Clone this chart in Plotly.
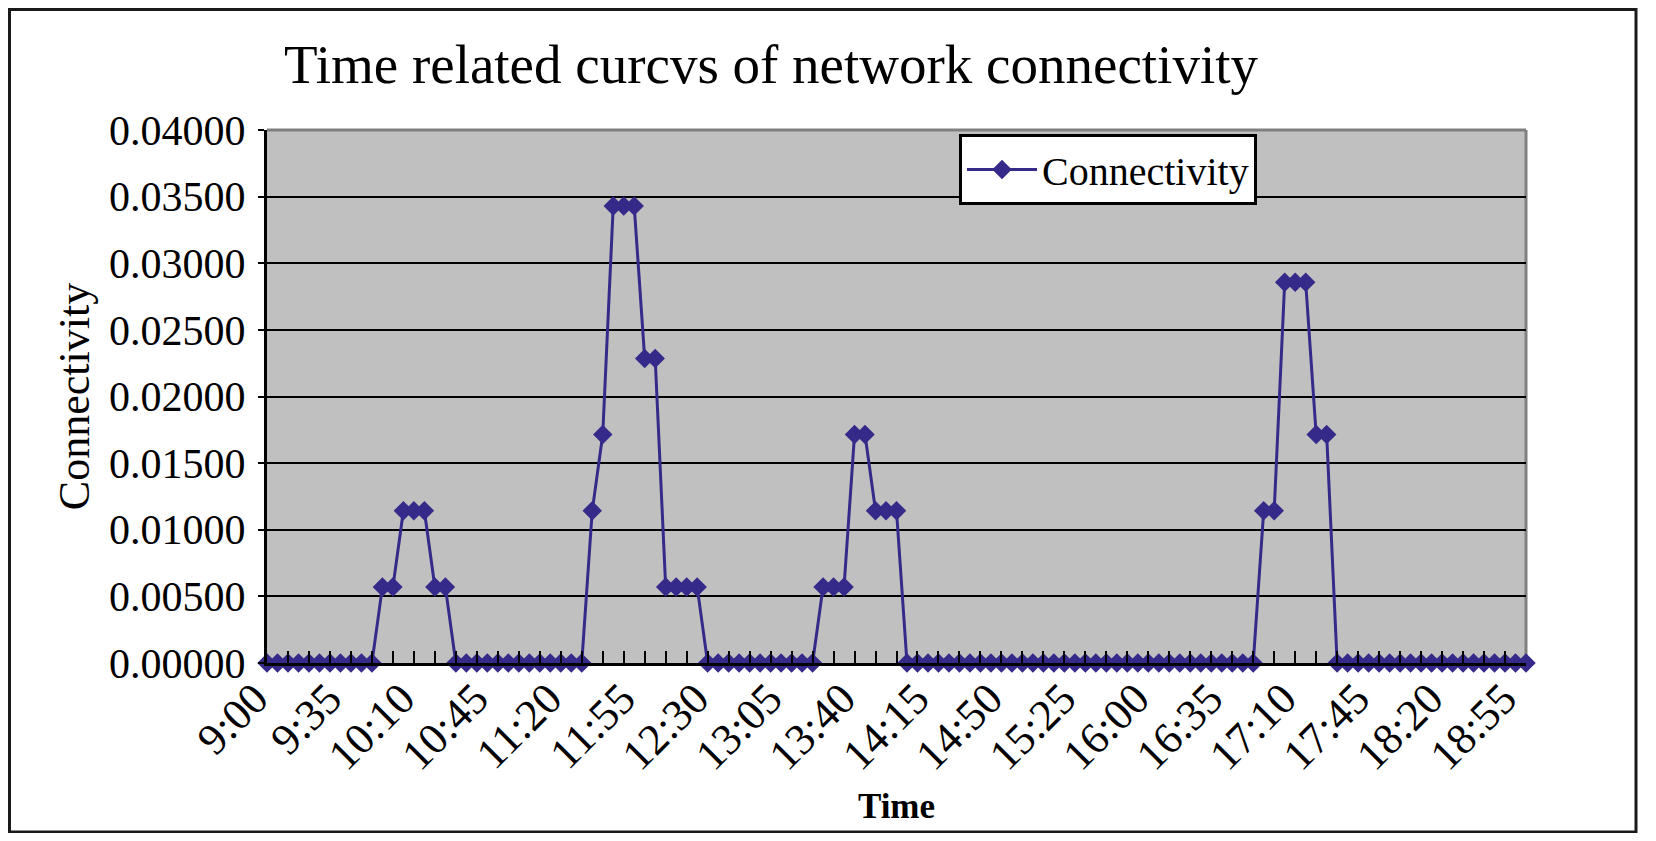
import plotly.graph_objects as go

times = [
    "9:00", "9:05", "9:10", "9:15", "9:20", "9:25", "9:30", "9:35", "9:40", "9:45", "9:50", "9:55",
    "10:00", "10:05", "10:10", "10:15", "10:20", "10:25", "10:30", "10:35", "10:40", "10:45", "10:50", "10:55",
    "11:00", "11:05", "11:10", "11:15", "11:20", "11:25", "11:30", "11:35", "11:40", "11:45", "11:50", "11:55",
    "12:00", "12:05", "12:10", "12:15", "12:20", "12:25", "12:30", "12:35", "12:40", "12:45", "12:50", "12:55",
    "13:00", "13:05", "13:10", "13:15", "13:20", "13:25", "13:30", "13:35", "13:40", "13:45", "13:50", "13:55",
    "14:00", "14:05", "14:10", "14:15", "14:20", "14:25", "14:30", "14:35", "14:40", "14:45", "14:50", "14:55",
    "15:00", "15:05", "15:10", "15:15", "15:20", "15:25", "15:30", "15:35", "15:40", "15:45", "15:50", "15:55",
    "16:00", "16:05", "16:10", "16:15", "16:20", "16:25", "16:30", "16:35", "16:40", "16:45", "16:50", "16:55",
    "17:00", "17:05", "17:10", "17:15", "17:20", "17:25", "17:30", "17:35", "17:40", "17:45", "17:50", "17:55",
    "18:00", "18:05", "18:10", "18:15", "18:20", "18:25", "18:30", "18:35", "18:40", "18:45", "18:50", "18:55",
    "19:00",
]

connectivity = [
    0, 0, 0, 0, 0, 0, 0, 0, 0, 0, 0,
    0.00571, 0.00571, 0.01143, 0.01143, 0.01143, 0.00571, 0.00571,
    0, 0, 0, 0, 0, 0, 0, 0, 0, 0, 0, 0, 0,
    0.01143, 0.01714, 0.03429, 0.03429, 0.03429, 0.02286, 0.02286,
    0.00571, 0.00571, 0.00571, 0.00571,
    0, 0, 0, 0, 0, 0, 0, 0, 0, 0, 0,
    0.00571, 0.00571, 0.00571, 0.01714, 0.01714, 0.01143, 0.01143, 0.01143,
    0, 0, 0, 0, 0, 0, 0, 0, 0, 0, 0, 0, 0, 0, 0, 0, 0,
    0, 0, 0, 0, 0, 0, 0, 0, 0, 0, 0, 0, 0, 0, 0, 0, 0,
    0.01143, 0.01143, 0.02857, 0.02857, 0.02857, 0.01714, 0.01714,
    0, 0, 0, 0, 0, 0, 0, 0, 0, 0, 0, 0, 0, 0, 0, 0, 0, 0, 0,
]

tick_labels = ["9:00", "9:35", "10:10", "10:45", "11:20", "11:55", "12:30", "13:05", "13:40",
               "14:15", "14:50", "15:25", "16:00", "16:35", "17:10", "17:45", "18:20", "18:55"]

x_idx = list(range(len(times)))
tick_pos = [times.index(t) for t in tick_labels]

# The page body adds an 8px margin, so the figure is sized/offset to compensate.
OFF = 8
W, H = 1656 - 2 * OFF, 841 - 2 * OFF
L, R, T, B = 267 - OFF, 1526 - OFF, 130 - OFF, 663 - OFF


def px_x(p):
    return (p - OFF - L) / (R - L)


def px_y(p):
    return (B - (p - OFF)) / (B - T)


SERIF = "Liberation Serif"
COLOR = "#352A8A"

fig = go.Figure()
fig.add_trace(go.Scatter(
    x=x_idx, y=connectivity, customdata=times, name="Connectivity",
    mode="lines+markers",
    line=dict(color=COLOR, width=3),
    marker=dict(symbol="diamond", size=15, color=COLOR),
    cliponaxis=False,
    hovertemplate="%{customdata}: %{y:.5f}<extra></extra>",
))
# empty helper trace so the labelled overlay axis is drawn
fig.add_trace(go.Scatter(x=[], y=[], xaxis="x2", yaxis="y",
                         showlegend=False, hoverinfo="skip"))

fig.update_layout(
    width=W, height=H, autosize=False,
    margin=dict(l=L, r=W - R, t=T, b=H - B, pad=0, autoexpand=False),
    paper_bgcolor="white", plot_bgcolor="#C0C0C0",
    title=dict(text="Time related curcvs of network connectivity",
               x=px_x(771), xref="paper", xanchor="center",
               y=1 - (64 - OFF) / H, yref="container", yanchor="middle",
               font=dict(family=SERIF, size=55, color="black")),
    showlegend=True,
    legend=dict(x=px_x(959), y=px_y(134), xanchor="left", yanchor="top",
                bgcolor="white", bordercolor="black", borderwidth=3,
                itemwidth=70,
                font=dict(family=SERIF, size=40, color="black")),
    xaxis=dict(range=[0, len(times) - 1], tickmode="linear", tick0=0, dtick=2,
               ticks="inside", ticklen=12, tickwidth=2, tickcolor="black",
               showticklabels=False, showgrid=False, zeroline=False,
               showline=True, linecolor="black", linewidth=3, automargin=False),
    xaxis2=dict(overlaying="x", anchor="y", side="bottom",
                range=[0, len(times) - 1], tickmode="array",
                tickvals=tick_pos, ticktext=tick_labels, tickangle=-45,
                ticks="", showgrid=False, zeroline=False, showline=False,
                ticklabelshift=-12, automargin=False,
                tickfont=dict(family=SERIF, size=44, color="black"),
                title=dict(text="<b>Time</b>", standoff=14,
                           font=dict(family=SERIF, size=35, color="black"))),
    yaxis=dict(range=[0, 0.04], tickmode="linear", tick0=0, dtick=0.005,
               tickformat=".5f", ticks="outside", ticklen=6, tickwidth=2,
               tickcolor="black", showgrid=True, gridcolor="black", gridwidth=2,
               zeroline=False, showline=True, linecolor="black", linewidth=3,
               ticklabelstandoff=4, automargin=False,
               tickfont=dict(family=SERIF, size=42, color="black"),
               title=dict(text="Connectivity", standoff=6,
                          font=dict(family=SERIF, size=44, color="black"))),
    shapes=[
        dict(type="line", xref="paper", yref="paper", x0=0, x1=1, y0=1, y1=1,
             line=dict(color="#808080", width=3), layer="above"),
        dict(type="line", xref="paper", yref="paper", x0=1, x1=1, y0=0, y1=1,
             line=dict(color="#808080", width=3), layer="below"),
        dict(type="rect", xref="paper", yref="paper",
             x0=px_x(OFF + 1.5), x1=px_x(1636), y0=px_y(832), y1=px_y(OFF + 1.5),
             line=dict(color="#1a1a1a", width=3), fillcolor="rgba(0,0,0,0)",
             layer="above"),
    ],
)

fig.write_html("out.html")
